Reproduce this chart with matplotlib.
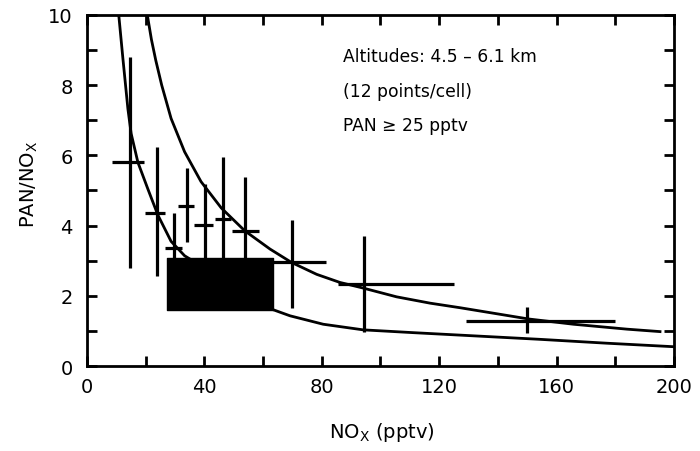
import matplotlib
matplotlib.use('Agg')
import matplotlib.pyplot as plt

# cells: NOx centre and range, PAN/NOx centre and range
nox = [14.8, 23.9, 29.6, 34.0, 40.1, 46.3, 53.9, 69.9, 94.5, 150.0]
nox_lo = [8.5, 19.9, 26.7, 31.2, 36.5, 43.5, 49.4, 63.4, 85.6, 129.1]
nox_hi = [19.4, 26.5, 32.4, 36.5, 42.9, 49.0, 58.8, 81.3, 125.0, 179.9]
ratio = [5.82, 4.37, 3.35, 4.55, 4.01, 4.18, 3.85, 2.95, 2.33, 1.27]
ratio_lo = [2.78, 2.57, 3.09, 3.52, 3.09, 3.09, 3.09, 1.64, 0.97, 0.95]
ratio_hi = [8.79, 6.25, 4.37, 5.63, 5.18, 5.94, 5.37, 4.16, 3.71, 1.69]

# black box
box_nox = [27.3, 63.4]
box_ratio = [1.60, 3.09]

# the two curves
upper_x = [20.6, 22.0, 23.5, 25.5, 28.7, 33.3, 38.9, 45.8, 53.8, 62.4, 69.7,
           78.3, 86.2, 94.1, 105.5, 116.9, 127.1, 137.3, 150.4, 165.7, 183.9,
           195.2]
upper_y = [10.0, 9.3, 8.7, 8.0, 7.05, 6.1, 5.25, 4.5, 3.85, 3.33, 2.95,
           2.61, 2.38, 2.22, 1.97, 1.79, 1.66, 1.52, 1.34, 1.19, 1.05, 0.98]
lower_x = [10.9, 12.3, 14.0, 15.1, 17.4, 20.8, 24.2, 28.7, 33.3, 62.9, 69.2,
           80.5, 94.1, 111.2, 127.1, 154.3, 177.0, 199.8]
lower_y = [9.98, 8.75, 7.32, 6.62, 5.80, 5.04, 4.30, 3.55, 3.14, 1.62, 1.43,
           1.19, 1.03, 0.95, 0.88, 0.76, 0.65, 0.55]

plt.rcParams['font.family'] = 'DejaVu Sans'
plt.rcParams['mathtext.default'] = 'regular'

fig = plt.figure(figsize=(7, 4.52), dpi=100)
ax = fig.add_axes([0.124, 0.188, 0.839, 0.777])

ax.plot(upper_x, upper_y, color='black', lw=2)
ax.plot(lower_x, lower_y, color='black', lw=2)
ax.fill_between(box_nox, box_ratio[0], box_ratio[1], color='black', zorder=3)
ax.vlines(nox, ratio_lo, ratio_hi, color='black', lw=2.3)
ax.hlines(ratio, nox_lo, nox_hi, color='black', lw=2.3)

ax.set_xlim(0, 200)
ax.set_ylim(0, 10)
ax.set_xticks(range(0, 201, 40))
ax.set_xticks(range(20, 200, 40), minor=True)
ax.set_yticks(range(0, 11, 2))
ax.set_yticks(range(1, 10, 2), minor=True)
ax.tick_params(which='both', direction='in', top=True, right=True,
               length=7, width=2, labelsize=14)
ax.tick_params(axis='y', pad=10)
ax.tick_params(axis='x', pad=8)
for s in ax.spines.values():
    s.set_linewidth(2)

ax.set_xlabel(r'NO$_X$ (pptv)', fontsize=14)
ax.xaxis.set_label_coords(0.503, -0.155)
ax.set_ylabel(r'PAN/NO$_X$', fontsize=14)
ax.yaxis.set_label_coords(-0.08, 0.52)

ax.text(0.436, 0.883, 'Altitudes: 4.5 – 6.1 km', transform=ax.transAxes,
        fontsize=12.3, va='center')
ax.text(0.436, 0.783, '(12 points/cell)', transform=ax.transAxes,
        fontsize=12.3, va='center')
ax.text(0.436, 0.686, 'PAN ≥ 25 pptv', transform=ax.transAxes,
        fontsize=12.3, va='center')

fig.savefig('out.png', dpi=100)
